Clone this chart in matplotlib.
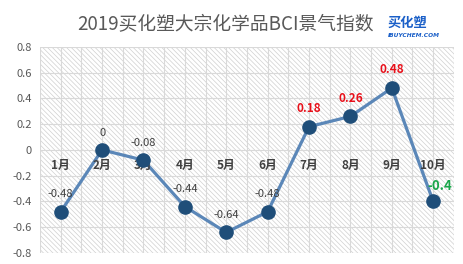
import matplotlib.pyplot as plt
from matplotlib.patches import Rectangle

plt.rcParams['font.family'] = ['Noto Sans CJK SC', 'DejaVu Sans']
plt.rcParams['hatch.linewidth'] = 0.5
plt.rcParams['hatch.color'] = '#d0d0d0'

months = ['1月', '2月', '3月', '4月', '5月', '6月', '7月', '8月', '9月', '10月']
bci = [-0.48, 0, -0.08, -0.44, -0.64, -0.48, 0.18, 0.26, 0.48, -0.4]
label_texts = ['-0.48', '0', '-0.08', '-0.44', '-0.64', '-0.48', '0.18', '0.26', '0.48', '-0.4']
y_ticks = [0.8, 0.6, 0.4, 0.2, 0, -0.2, -0.4, -0.6, -0.8]
y_tick_labels = ['0.8', '0.6', '0.4', '0.2', '0', '-0.2', '-0.4', '-0.6', '-0.8']

fig = plt.figure(figsize=(4.64, 2.64), dpi=100)
ax = fig.add_axes([0.0862, 0.0417, 0.892, 0.781])

x = [i + 0.5 for i in range(len(months))]

# hatched background
ax.add_patch(Rectangle((0, 0), 1, 1, transform=ax.transAxes, facecolor='white',
                       edgecolor='#d0d0d0', hatch='\\' * 7, lw=0, zorder=0))

ax.set_xlim(0, 10)
ax.set_ylim(-0.8, 0.8)
for gx in [i * 0.5 for i in range(21)]:
    ax.axvline(gx, color='#d9d9d9', lw=0.8, zorder=1)
for gy in y_ticks:
    ax.axhline(gy, color='#d9d9d9', lw=0.8, zorder=1)

ax.plot(x, bci, color='#5b87b8', lw=2.3, zorder=3)
ax.plot(x, bci, 'o', color='#1f4e79', ms=9.5, zorder=4)

for i, (xi, v, t) in enumerate(zip(x, bci, label_texts)):
    if v > 0.1:
        ax.annotate(t, (xi, v), xytext=(0, 13), textcoords='offset points',
                    ha='center', va='center', fontsize=8.5, fontweight='bold', color='#e8101a')
    elif i == 9:
        ax.annotate(t, (xi, v), xytext=(5, 11), textcoords='offset points',
                    ha='center', va='center', fontsize=9.5, fontweight='bold', color='#1aa64a')
    else:
        ax.annotate(t, (xi, v), xytext=(0, 12.5), textcoords='offset points',
                    ha='center', va='center', fontsize=8, color='#404040')

# month labels along zero line
for xi, m in zip(x, months):
    ax.annotate(m, (xi, 0), xytext=(0, -11.5), textcoords='offset points',
                ha='center', va='center', fontsize=8.5, fontweight='bold', color='#404040')

ax.set_xticks([])
ax.set_yticks(y_ticks)
ax.set_yticklabels(y_tick_labels)
ax.tick_params(axis='y', length=0, pad=6, labelsize=8, labelcolor='#595959')
for s in ax.spines.values():
    s.set_visible(False)

fig.text(0.485, 0.905, '2019买化塑大宗化学品BCI景气指数', ha='center', va='center',
         fontsize=13.5, color='#595959')

# logo
fig.text(0.835, 0.915, '买化塑', ha='left', va='center', fontsize=9.5, fontweight='bold',
         style='italic', color='#1a5fc8')
fig.text(0.835, 0.866, 'IBUYCHEM.COM', ha='left', va='center', fontsize=4.2,
         fontweight='bold', style='italic', color='#1a5fc8', family='DejaVu Sans')

fig.savefig('out.png', dpi=100)
